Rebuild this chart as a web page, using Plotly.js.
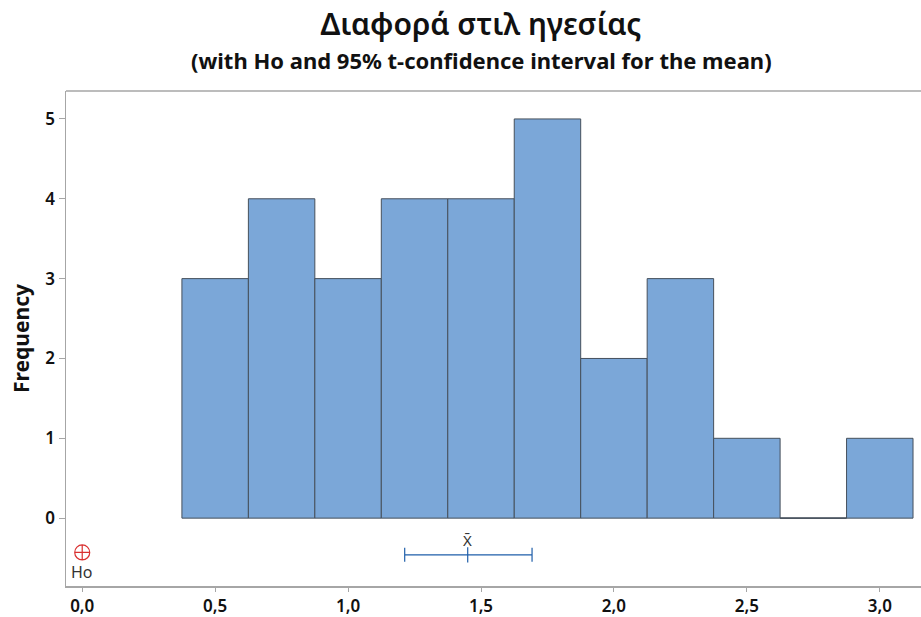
<!DOCTYPE html>
<html>
<head>
<meta charset="utf-8">
<script src="https://cdn.plot.ly/plotly-3.0.1.min.js"></script>
<style>html,body{margin:0;padding:0;background:#fff;}#chart{width:921px;height:617px;}</style>
</head>
<body>
<div id="chart"></div>
<script>
// Histogram bins (centers) and frequencies
const binCenters = [0.5, 0.75, 1.0, 1.25, 1.5, 1.75, 2.0, 2.25, 2.5, 2.75, 3.0];
const counts     = [3,   4,    3,   4,    4,   5,    2,   3,    1,   0,    1];
const binWidth = 0.25;

// Hypothesised mean and 95% t-confidence interval for the mean
const h0Value = 0.0;
const ciMean = 1.450;
const ciLow = 1.213;
const ciHigh = 1.692;

const xTicks = [0.0, 0.5, 1.0, 1.5, 2.0, 2.5, 3.0];
const yTicks = [0, 1, 2, 3, 4, 5];

const titleText = "Διαφορά στιλ ηγεσίας";
const subtitleText = "(with Ho and 95% t-confidence interval for the mean)";

const FONT = "Noto Sans, Open Sans, DejaVu Sans, sans-serif";
const barFill = "#7BA7D8";
const barEdge = "#46505C";
const ciColor = "#1F5FAA";
const ciY = -0.46;

const traces = [];
traces.push({
  type: "bar",
  x: binCenters,
  y: counts,
  width: binWidth,
  marker: {color: barFill, line: {color: barEdge, width: 1}},
  hoverinfo: "x+y",
  showlegend: false
});
// outline for empty bins (zero height)
binCenters.forEach((c, i) => {
  if (counts[i] === 0) {
    traces.push({
      type: "scatter", mode: "lines",
      x: [c - binWidth / 2, c + binWidth / 2], y: [counts[i], counts[i]],
      line: {color: barEdge, width: 1.2}, showlegend: false, hoverinfo: "skip"
    });
  }
});
// confidence interval
traces.push({
  type: "scatter", mode: "markers",
  x: [ciMean], y: [ciY],
  marker: {symbol: "line-ns-open", size: 11, line: {color: ciColor, width: 1.2}, color: ciColor},
  error_x: {type: "data", symmetric: false, array: [ciHigh - ciMean], arrayminus: [ciMean - ciLow],
            color: ciColor, thickness: 1.2, width: 7},
  showlegend: false
});
// Ho marker
traces.push({
  type: "scatter", mode: "markers",
  x: [h0Value], y: [-0.43],
  marker: {symbol: "circle-cross-open", size: 15, color: "#D93030", line: {color: "#D93030", width: 1.2}},
  showlegend: false
});

const layout = {
  width: 921, height: 617,
  margin: {l: 66, r: 0, t: 91, b: 31, pad: 0},
  paper_bgcolor: "#fff", plot_bgcolor: "#fff",
  separators: ",.",
  font: {family: FONT, color: "#111"},
  title: {text: titleText, x: 481 / 921, xanchor: "center", xref: "container",
          y: 1 - 24 / 617, yanchor: "middle", yref: "container",
          font: {family: FONT, size: 30, weight: 600, color: "#111"}},
  xaxis: {
    range: [-0.061, 3.155], tickvals: xTicks, tickformat: ".1f",
    showgrid: false, zeroline: false, showline: true, linecolor: "#A6A6A6", linewidth: 1.5,
    ticks: "outside", ticklen: 4, tickcolor: "#A6A6A6", tickwidth: 1,
    tickfont: {family: FONT, size: 17, weight: 600, color: "#111"}
  },
  yaxis: {
    range: [-0.85, 5.35], tickvals: yTicks,
    showgrid: false, zeroline: false, showline: true, linecolor: "#A6A6A6", linewidth: 1.5,
    ticks: "outside", ticklen: 6, tickcolor: "#A6A6A6", tickwidth: 1,
    tickfont: {family: FONT, size: 17, weight: 600, color: "#111"},
    title: {text: "Frequency", standoff: 10, font: {family: FONT, size: 21, weight: "bold", color: "#111"}}
  },
  shapes: [
    {type: "line", xref: "paper", yref: "paper", x0: 0, x1: 1, y0: 1, y1: 1,
     line: {color: "#A6A6A6", width: 1.5}}
  ],
  annotations: [
    {text: subtitleText, xref: "paper", yref: "paper", x: (481 - 66) / 855, y: 1 + (91 - 60) / 495,
     xanchor: "center", yanchor: "middle", showarrow: false,
     font: {family: FONT, size: 22, weight: "bold", color: "#111"}},
    {text: "X\u0304", x: ciMean, y: -0.27, xref: "x", yref: "y", showarrow: false,
     font: {family: FONT, size: 15, color: "#333"}},
    {text: "Ho", x: h0Value, y: -0.67, xref: "x", yref: "y", showarrow: false,
     font: {family: FONT, size: 16, color: "#333"}}
  ]
};

Plotly.newPlot("chart", traces, layout, {displayModeBar: false, staticPlot: true});
</script>
</body>
</html>
